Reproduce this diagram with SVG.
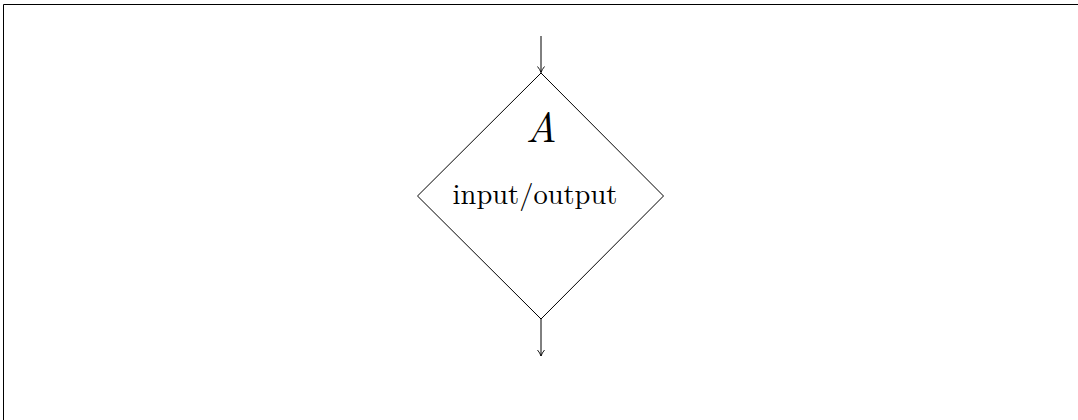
<svg xmlns="http://www.w3.org/2000/svg" width="1078" height="420" viewBox="0 0 1078 420">
<style>
.ln{fill:none;stroke:#000;stroke-width:1}
.t{font-family:"Latin Modern Roman","Liberation Serif","DejaVu Serif",serif;fill:#000;text-anchor:middle}
</style>
<defs>
<marker id="arr" markerWidth="10" markerHeight="10" refX="8" refY="5" orient="auto" markerUnits="userSpaceOnUse">
<path d="M2,1.5 Q5,4 8,5 Q5,6 2,8.5" fill="none" stroke="#000" stroke-width="0.9"/>
</marker>
</defs>
<rect width="1078" height="420" fill="#fff"/>
<path class="ln" d="M3.5,420 V4.5 H1078" stroke-width="1.2"/>
<g id="connectors">
<line class="ln" x1="541" y1="36" x2="541" y2="72.5" marker-end="url(#arr)"/>
<line class="ln" x1="541" y1="319" x2="541" y2="356" marker-end="url(#arr)"/>
</g>
<g id="node-A">
<polygon class="ln" points="541,73 663.5,196 541,319 417.5,196"/>
<text class="t" x="541" y="142" font-size="42" font-style="italic">A</text>
<text class="t" x="535" y="204" font-size="28.5">input/output</text>
</g>
</svg>
